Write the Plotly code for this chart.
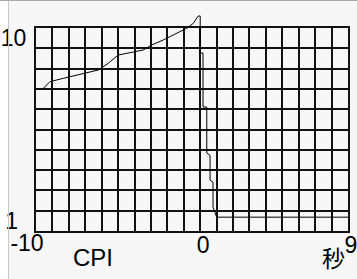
import plotly.graph_objects as go

# Data (seconds vs CPI)
t_sec = [-9.59, -9.15, -8.34, -7.52, -6.21, -5.60, -4.99, -3.47, -2.95, -2.25,
         -1.43, -0.82, -0.42, -0.12, 0.0, 0.0, 0.17, 0.17, 0.40, 0.40, 0.60,
         0.60, 0.78, 0.78, 1.0, 9.0]
cpi = [5.01, 5.44, 5.65, 5.87, 6.21, 6.70, 7.36, 7.79, 8.25, 8.73,
       9.42, 9.97, 10.55, 11.46, 11.46, 7.53, 7.53, 4.08, 4.08, 2.42, 2.36,
       1.78, 1.74, 1.31, 1.17, 1.17]

x_grid = list(range(-10, 10))
x_labels = {0: "0", 9: "9"}
x_left_label = "-10"
y_grid = [10 ** (i / 10) for i in range(11)]
y_top_label = "10"
y_bottom_label = "1"

W, H = 357, 279
ML, MR, MB = 36, 9, 48
GRID_TOP = 28                      # top of the gridded box, px
MT = 8                             # top of the (taller) line-drawing area, px
PW = W - ML - MR
PH = H - MT - MB                   # full plot height (line area)
GH = H - GRID_TOP - MB             # gridded box height
gdom = GH / PH                     # grid axis domain top

font_num = dict(family="Liberation Sans, Arial", size=23, color="black")

fig = go.Figure()
# invisible traces so the gridded subplot and the label axes exist
fig.add_trace(go.Scatter(x=t_sec, y=cpi, mode="lines", xaxis="x", yaxis="y",
                         line=dict(color="rgba(0,0,0,0)", width=0),
                         hoverinfo="skip", showlegend=False))
fig.add_trace(go.Scatter(x=t_sec, y=cpi, mode="lines", xaxis="x2", yaxis="y2",
                         line=dict(color="rgba(0,0,0,0)", width=0),
                         hoverinfo="skip", showlegend=False))
# the CPI line, on a taller subplot so the peak above the box isn't clipped
fig.add_trace(go.Scatter(x=t_sec, y=cpi, mode="lines", xaxis="x3", yaxis="y3",
                         line=dict(color="black", width=1),
                         hoverinfo="skip", showlegend=False))

grid_style = dict(showgrid=True, gridcolor="#111111", gridwidth=2,
                  showline=True, linecolor="#111111", linewidth=2, mirror=True,
                  zeroline=False, ticks="", tickfont=font_num, automargin=False,
                  ticklabeloverflow="allow")

fig.update_layout(
    width=W, height=H, autosize=False,
    margin=dict(l=ML, r=MR, t=MT, b=MB, pad=0),
    paper_bgcolor="#f7f7f7", plot_bgcolor="rgba(0,0,0,0)",
    xaxis=dict(range=[-10, 9], domain=[0, 1], tickmode="array", tickvals=x_grid,
               anchor="y", ticktext=[x_labels.get(v, "") for v in x_grid],
               ticklabelshift=3, ticklabelstandoff=-8, **grid_style),
    yaxis=dict(type="log", range=[0, 1], domain=[0, gdom], anchor="x",
               tickmode="array", tickvals=y_grid,
               ticktext=[y_top_label if i == 10 else "" for i in range(11)],
               ticklabelposition="outside bottom", ticklabelstandoff=3,
               ticklabelshift=-6, **grid_style),
    xaxis2=dict(range=[-10, 9], overlaying="x", anchor="y2", side="bottom",
                tickmode="array", tickvals=[-10], ticktext=[x_left_label],
                ticklabelshift=-9, ticklabelstandoff=-4, showgrid=False,
                showline=False, zeroline=False, ticks="", tickfont=font_num,
                automargin=False, ticklabeloverflow="allow"),
    yaxis2=dict(type="log", range=[0, 1], overlaying="y", anchor="x2", side="left",
                tickmode="array", tickvals=[1], ticktext=[y_bottom_label],
                ticklabelposition="outside top", ticklabelstandoff=17,
                ticklabelshift=6,
                showgrid=False, showline=False, zeroline=False, ticks="",
                tickfont=font_num, automargin=False, ticklabeloverflow="allow"),
    xaxis3=dict(range=[-10, 9], domain=[0, 1], anchor="y3", visible=False,
                automargin=False),
    yaxis3=dict(type="log", range=[0, 1 / gdom], domain=[0, 1], anchor="x3",
                visible=False, automargin=False),
    shapes=[
        dict(type="rect", xref="paper", yref="paper",
             x0=-ML / PW, x1=(8 - ML) / PW, y0=-MB / PH, y1=1 + MT / PH,
             fillcolor="white", line=dict(width=0), layer="below"),
        dict(type="line", xref="paper", yref="paper",
             x0=(8.5 - ML) / PW, x1=(8.5 - ML) / PW, y0=-MB / PH, y1=1 + MT / PH,
             line=dict(color="#c8c8c8", width=1)),
        dict(type="line", xref="paper", yref="paper",
             x0=-ML / PW, x1=1 + MR / PW, y0=1 + (MT - 0.5) / PH, y1=1 + (MT - 0.5) / PH,
             line=dict(color="#a8a8a8", width=1)),
    ],
    annotations=[
        dict(text="CPI", xref="paper", yref="paper", x=(93 - ML) / PW,
             y=-(257 - MT - PH) / PH, showarrow=False,
             font=dict(family="Liberation Sans, Arial", size=24, color="black"),
             xanchor="center", yanchor="middle"),
        dict(text="秒", xref="paper", yref="paper", x=(333 - ML) / PW,
             y=-(257 - MT - PH) / PH, showarrow=False,
             font=dict(family="Noto Sans CJK JP", size=23, color="black"),
             xanchor="center", yanchor="middle"),
    ],
)

fig.write_html("out.html", config={"displayModeBar": False},
               post_script="document.body.style.margin='0';"
                           "document.body.style.overflow='hidden';")
